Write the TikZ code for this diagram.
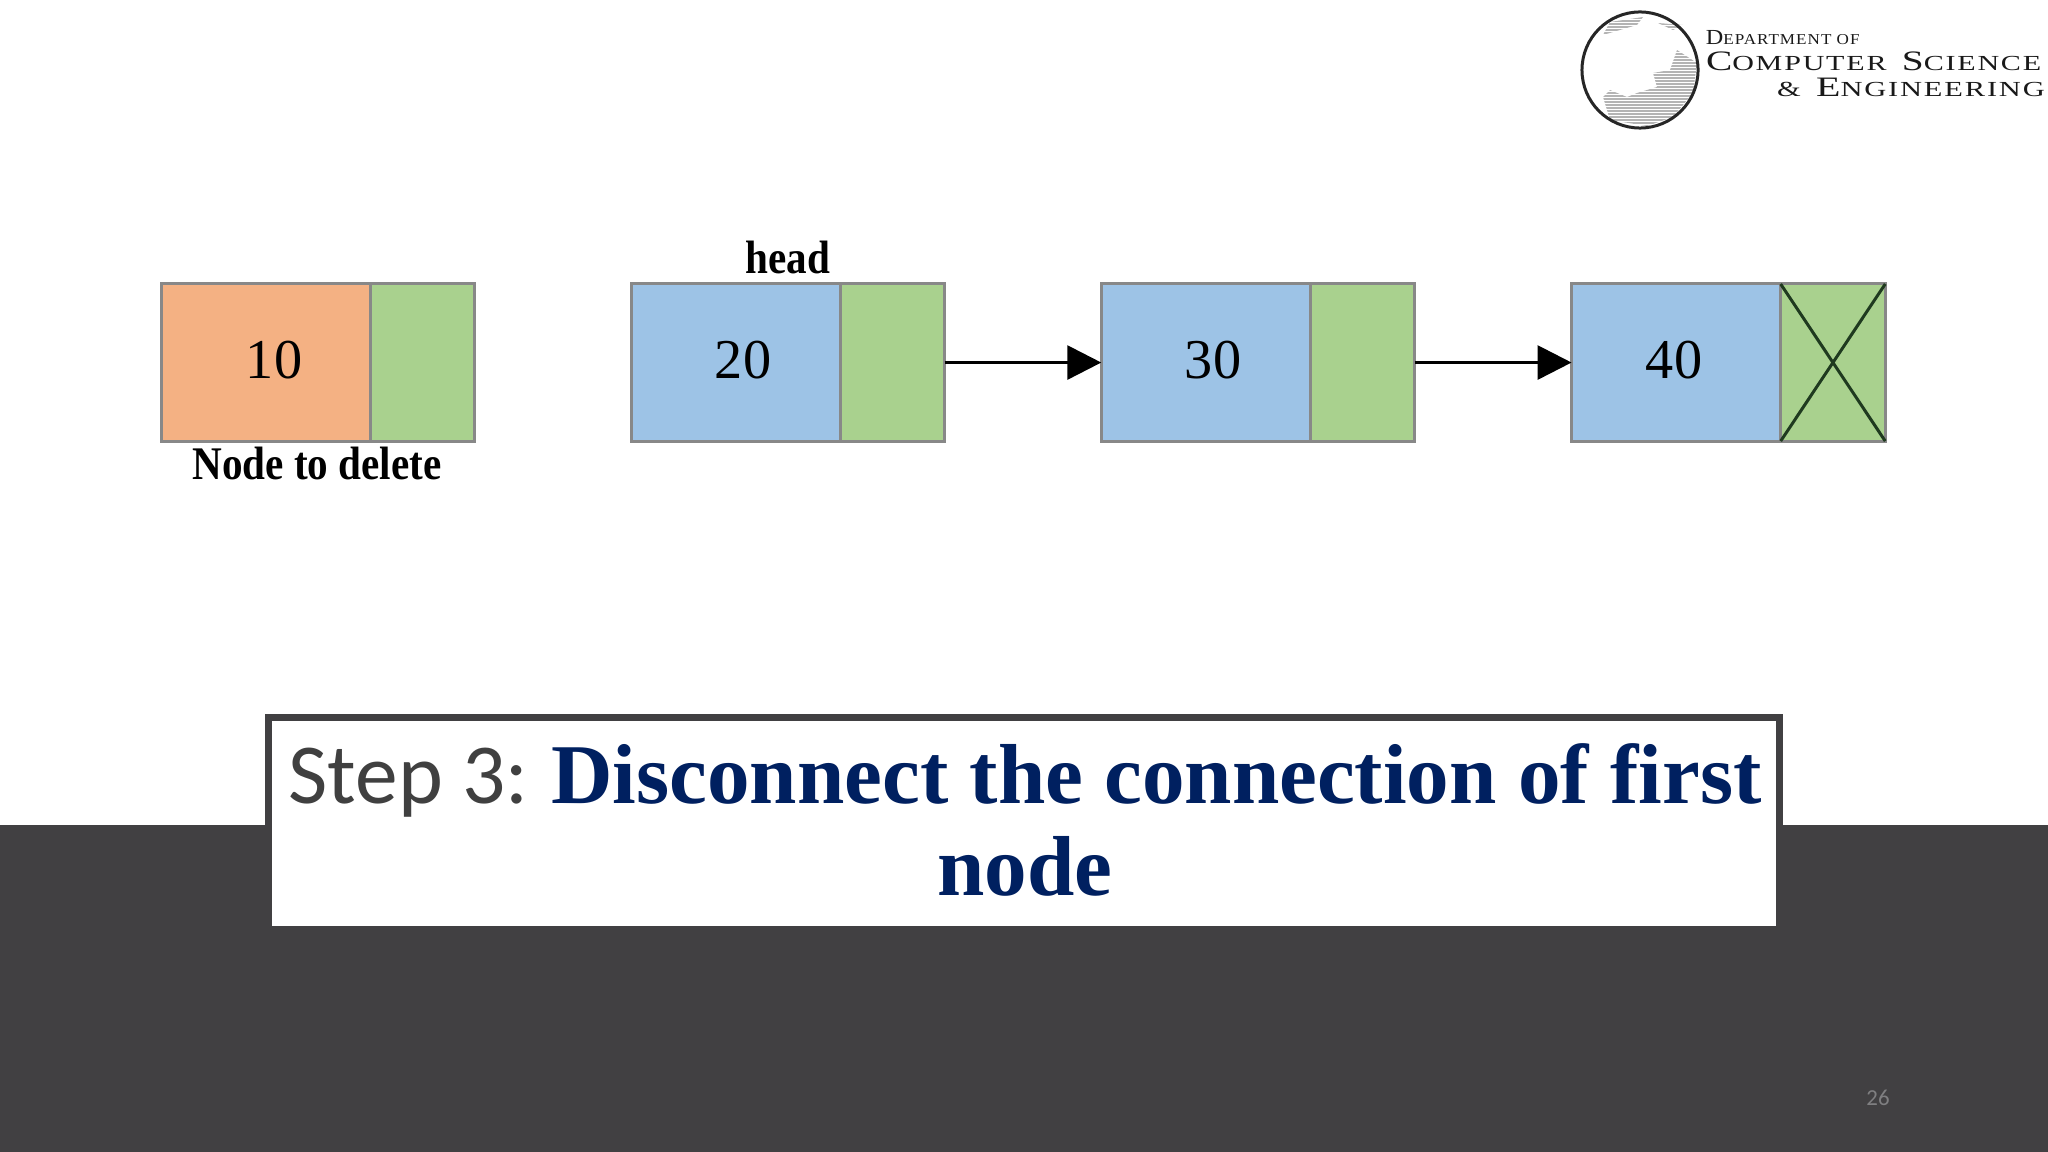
\documentclass[tikz,border=0pt]{standalone}
\usepackage{fontspec}
\usetikzlibrary{positioning,arrows.meta}
\setmainfont{Liberation Serif}
\newfontfamily\stepfont{Carlito}
\newfontfamily\logofont[LetterSpace=6]{Liberation Serif}
\definecolor{bandgray}{HTML}{414042}
\definecolor{titlenavy}{HTML}{002060}
\definecolor{stepgray}{HTML}{404040}
\definecolor{pagegray}{HTML}{7F7F81}
\definecolor{cellgray}{HTML}{888888}
\definecolor{delorange}{HTML}{F4B183}
\definecolor{datablue}{HTML}{9DC3E6}
\definecolor{linkgreen}{HTML}{A9D18E}
\definecolor{landgray}{HTML}{B4B4B4}
\definecolor{crossgreen}{HTML}{1F3A1F}
\newcommand{\logobig}[1]{{\fontsize{8}{8}\selectfont #1}}
\newcommand{\logosmall}[1]{{\fontsize{6.1}{6.1}\selectfont #1}}
\begin{document}
\begin{tikzpicture}[x=0.01cm,y=-0.01cm,
  delcell/.style={rectangle,draw=cellgray,line width=0.03cm,fill=delorange,minimum width=2.09cm,minimum height=1.57cm,outer sep=0pt,inner sep=0pt},
  datacell/.style={delcell,fill=datablue},
  linkcell/.style={delcell,fill=linkgreen,minimum width=1.045cm},
  value/.style={font=\fontsize{16}{16}\selectfont,inner sep=0pt},
  caption/.style={font=\bfseries\fontsize{13.3}{13.3}\selectfont,inner sep=0pt,xscale=.88,transform shape},
  nextarrow/.style={line width=0.03cm,-{Triangle[length=0.34cm,width=0.34cm]}},
  crossline/.style={line width=0.03cm,color=crossgreen},
  logoline/.style={anchor=base west,inner sep=0pt,font=\logofont,text=black!90,transform shape}]
\useasboundingbox (0,0) rectangle (2048,1152);
% slide band
\fill [bandgray] (0,825) rectangle (2048,1152);
% list cells
\node [delcell,anchor=north west] (n10) at (161,284) {};
\node [linkcell,right=0pt of n10] (l10) {};
\node [datacell,anchor=north west] (n20) at (631,284) {};
\node [linkcell,right=0pt of n20] (l20) {};
\node [datacell,right=1.565cm of l20] (n30) {};
\node [linkcell,right=0pt of n30] (l30) {};
\node [datacell,right=1.565cm of l30] (n40) {};
\node [linkcell,right=0pt of n40] (l40) {};
\node [value] (v10) at (274,360) {10};
\node [value] (v20) at (743,360) {20};
\node [value] (v30) at (1213,360) {30};
\node [value] (v40) at (1674,360) {40};
\node [caption] (del) at (317,464) {Node to delete};
\node [caption] (head) at (788,258) {head};
\draw [nextarrow] (l20) -- (n30);
\draw [nextarrow] (l30) -- (n40);
\draw [crossline] (l40.north west) -- (l40.south east);
\draw [crossline] (l40.south west) -- (l40.north east);
% title
\node [rectangle,draw=bandgray,line width=0.07cm,fill=white,minimum width=15.11cm,minimum height=2.12cm] (title) at (1024,823.5) {};
\node [align=center,inner sep=0pt,text=titlenavy,font=\bfseries\fontsize{24.2}{26.2}\selectfont] (titletext) at (1025,820)
  {{\stepfont\mdseries\fontsize{24.3}{26.2}\selectfont\color{stepgray}Step 3:}\hspace{-1.5pt} Disconnect the connection of first\\node};
\node [text=pagegray,font=\stepfont\fontsize{6.5}{6.5}\selectfont,inner sep=0pt] (page) at (1878,1098) {26};
% logo
\fill [landgray] (1603,97) -- (1610,120) -- (1647,126) -- (1673,117) -- (1693,93) -- (1697,63) -- (1677,50) -- (1670,70) -- (1653,73) -- (1657,87) -- (1637,93) -- (1627,97) -- (1610,90) -- cycle;
\fill [landgray] (1610,22) -- (1643,17) -- (1637,25) -- (1603,35) -- cycle;
\fill [landgray] (1658,23) -- (1683,25) -- (1673,30) -- cycle;
\foreach \ypos in {14,17,...,128}
  \draw [white,line width=0.01cm] (1580,\ypos) -- (1700,\ypos);
\node [circle,draw=black!85,line width=0.03cm,minimum size=1.16cm,inner sep=0pt] (globe) at (1640,70) {};
\node [logoline,xscale=1.13] (dept) at (1705,45) {\logosmall{D}{\fontsize{4.3}{4.3}\selectfont EPARTMENT OF}};
\node [logoline,xscale=1.40] (cs) at (1705,71) {\logobig{C}\logosmall{OMPUTER} \logobig{S}\logosmall{CIENCE}};
\node [logoline,xscale=1.42] (eng) at (1776,97) {\logosmall{\&} \logobig{E}\logosmall{NGINEERING}};
\end{tikzpicture}
\end{document}
